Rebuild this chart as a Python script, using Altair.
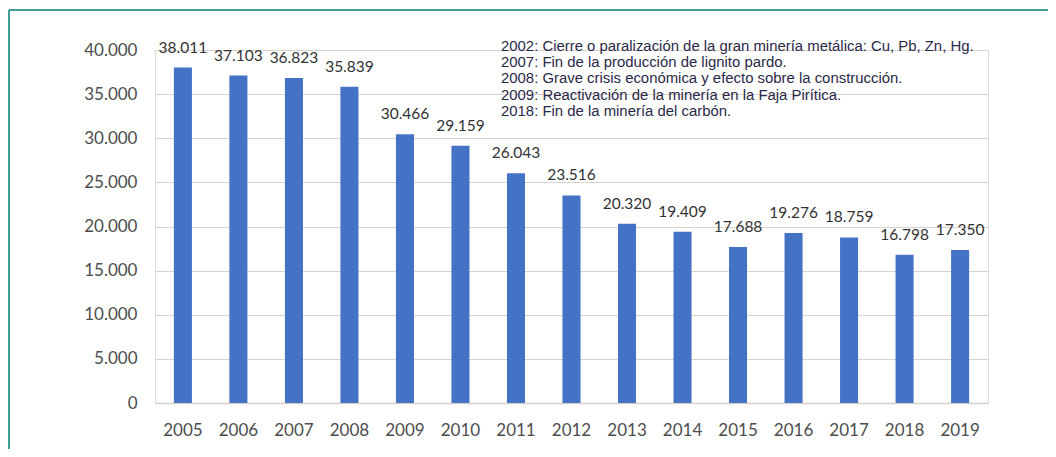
import altair as alt
import pandas as pd

years = ["2005", "2006", "2007", "2008", "2009", "2010", "2011", "2012",
         "2013", "2014", "2015", "2016", "2017", "2018", "2019"]
values = [38011, 37103, 36823, 35839, 30466, 29159, 26043, 23516,
          20320, 19409, 17688, 19276, 18759, 16798, 17350]
notes = [
    "2002: Cierre o paralización de la gran minería metálica: Cu, Pb, Zn, Hg.",
    "2007: Fin de la producción de lignito pardo.",
    "2008: Grave crisis económica y efecto sobre la construcción.",
    "2009: Reactivación de la minería en la Faja Pirítica.",
    "2018: Fin de la minería del carbón.",
]
y_ticks = [0, 5000, 10000, 15000, 20000, 25000, 30000, 35000, 40000]

df = pd.DataFrame({"year": years, "value": values})

FONT = "Lato"
W, H = 833, 353

base = alt.Chart(df).encode(
    x=alt.X("year:N", sort=years,
            scale=alt.Scale(paddingInner=0.675, paddingOuter=0.34),
            axis=alt.Axis(title=None, labelAngle=0, ticks=False, domain=True,
                          domainColor="#d6d0cc", domainWidth=1.5,
                          labelFont=FONT, labelFontSize=17, labelColor="#4d4d4d",
                          labelPadding=19)),
)

bars = base.mark_bar(color="#4472c4").encode(
    y=alt.Y("value:Q", scale=alt.Scale(domain=[0, 40000], nice=False),
            axis=alt.Axis(title=None, values=y_ticks, ticks=False, domain=False,
                          grid=True, gridColor="#d9d3cf", gridWidth=1.2,
                          labelFont=FONT, labelFontSize=17, labelColor="#4d4d4d",
                          labelPadding=18,
                          labelExpr="replace(format(datum.value, ','), ',', '.')")),
)

labels = base.mark_text(font=FONT, fontSize=15.5, color="#333333",
                        baseline="bottom", dy=-12).encode(
    y=alt.Y("value:Q"),
    text=alt.Text("lab:N"),
).transform_calculate(lab="replace(format(datum.value, ','), ',', '.')")

note_df = pd.DataFrame({"txt": ["\n".join(notes)]})
note = alt.Chart(note_df).mark_text(
    font="Liberation Sans", fontSize=14.9, color="#2a2a48",
    align="left", baseline="top", lineBreak="\n", lineHeight=16.2,
).encode(text="txt:N", x=alt.value(346), y=alt.value(-11))

frame_df = pd.DataFrame({"k": [0]})
frame_top = alt.Chart(frame_df).mark_rule(color="#3f9e96", strokeWidth=2).encode(
    x=alt.value(-146), x2=alt.value(893), y=alt.value(-40))
frame_left = alt.Chart(frame_df).mark_rule(color="#3f9e96", strokeWidth=2).encode(
    x=alt.value(-146), y=alt.value(-40), y2=alt.value(400))

chart = alt.layer(bars, labels, note, frame_top, frame_left).properties(
    width=W, height=H,
    autosize=alt.AutoSizeParams(type="none"),
    padding={"left": 147, "top": 42, "right": 60, "bottom": 46},
).configure_view(stroke=None).configure(background="white")

chart.save("out.html", embed_options={"renderer": "svg", "actions": False})
